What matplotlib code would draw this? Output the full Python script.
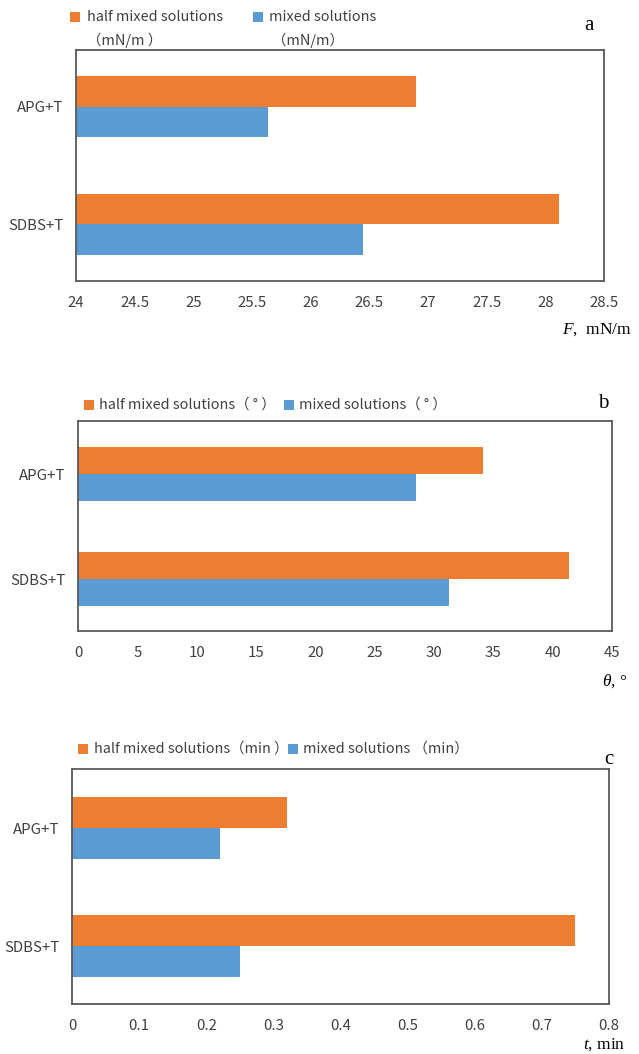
import matplotlib
matplotlib.use("Agg")
import matplotlib.pyplot as plt
from matplotlib.patches import Rectangle

plt.rcParams['font.family'] = ['Noto Sans CJK SC', 'DejaVu Sans']
plt.rcParams['mathtext.fontset'] = 'custom'
plt.rcParams['mathtext.it'] = 'Liberation Serif:italic'
plt.rcParams['mathtext.rm'] = 'Liberation Serif'

categories = ["APG+T", "SDBS+T"]
ORANGE = "#ED7D31"
BLUE = "#5B9BD5"

# Panel a: F, mN/m
a_half = [26.9, 28.12]
a_mixed = [25.64, 26.45]
a_ticks = [24, 24.5, 25, 25.5, 26, 26.5, 27, 27.5, 28, 28.5]
a_ticklabels = ["24", "24.5", "25", "25.5", "26", "26.5", "27", "27.5", "28", "28.5"]

# Panel b: theta, degree
b_half = [34.1, 41.4]
b_mixed = [28.5, 31.3]
b_ticks = [0, 5, 10, 15, 20, 25, 30, 35, 40, 45]
b_ticklabels = ["0", "5", "10", "15", "20", "25", "30", "35", "40", "45"]

# Panel c: t, min
c_half = [0.32, 0.75]
c_mixed = [0.22, 0.25]
c_ticks = [0, 0.1, 0.2, 0.3, 0.4, 0.5, 0.6, 0.7, 0.8]
c_ticklabels = ["0", "0.1", "0.2", "0.3", "0.4", "0.5", "0.6", "0.7", "0.8"]

W, H = 639, 1054
fig = plt.figure(figsize=(W / 100, H / 100), dpi=100)


def fx(px):
    return px / W


def fy(py):
    return 1 - py / H


def make_axes(left, right, top, bottom):
    return fig.add_axes([fx(left), fy(bottom), fx(right) - fx(left), fy(top) - fy(bottom)])


def draw(ax, half, mixed, ticks, ticklabels, xlim, ylim, bh):
    y = list(range(len(categories)))
    ax.barh([v - bh / 2 for v in y], [h - xlim[0] for h in half], height=bh, color=ORANGE, left=xlim[0])
    ax.barh([v + bh / 2 for v in y], [m - xlim[0] for m in mixed], height=bh, color=BLUE, left=xlim[0])
    ax.set_xlim(*xlim)
    ax.set_ylim(*ylim)
    ax.set_xticks(ticks)
    ax.set_xticklabels(ticklabels)
    ax.set_yticks(y)
    ax.set_yticklabels(categories)
    ax.tick_params(length=0, labelsize=10.8, colors="#404040")
    ax.tick_params(axis='x', pad=11)
    ax.tick_params(axis='y', pad=9)
    for s in ax.spines.values():
        s.set_color("#595959")
        s.set_linewidth(1.3)


axa = make_axes(76, 604, 50, 281)
draw(axa, a_half, a_mixed, a_ticks, a_ticklabels, (24, 28.5), (1.483, -0.483), 0.26)
axb = make_axes(78, 612, 421, 631)
draw(axb, b_half, b_mixed, b_ticks, b_ticklabels, (0, 45), (1.495, -0.505), 0.257)
axc = make_axes(72, 609, 769, 1004)
draw(axc, c_half, c_mixed, c_ticks, c_ticklabels, (0, 0.8), (1.49, -0.5), 0.26)


def legend_sq(px, py, color):
    fig.add_artist(Rectangle((fx(px), fy(py + 5)), fx(10), 10 / H,
                             transform=fig.transFigure, color=color, lw=0))


def ltext(px, py, s):
    fig.text(fx(px), fy(py), s, fontsize=10.4, color="#404040", va="center", ha="left")


# legend a
legend_sq(70, 17, ORANGE)
ltext(87, 17, "half mixed solutions")
ltext(87, 40, "（mN/m ）")
legend_sq(253, 17, BLUE)
ltext(269, 17, "mixed solutions")
ltext(272, 40, "（mN/m）")
# legend b
legend_sq(84, 405, ORANGE)
ltext(99, 405, "half mixed solutions（ ° ）")
legend_sq(284, 405, BLUE)
ltext(299, 405, "mixed solutions（ ° ）")
# legend c
legend_sq(78, 749, ORANGE)
ltext(94, 749, "half mixed solutions（min ）")
legend_sq(288, 749, BLUE)
ltext(303, 749, "mixed solutions （min）")

# panel letters
for s, px, py in [("a", 589, 25), ("b", 603, 404), ("c", 609, 760)]:
    fig.text(fx(px), fy(py), s, fontsize=15, family="Liberation Serif", ha="center", va="center")

# axis labels
fig.text(fx(632), fy(330), "$F$,  mN/m", fontsize=12.5, family="Liberation Serif", ha="right", va="center")
fig.text(fx(627), fy(681), "$\\theta$, °", fontsize=12.5, family="Liberation Serif", ha="right", va="center")
fig.text(fx(625), fy(1045), "$t$, min", fontsize=12.5, family="Liberation Serif", ha="right", va="center")

fig.savefig("out.png", dpi=100)
